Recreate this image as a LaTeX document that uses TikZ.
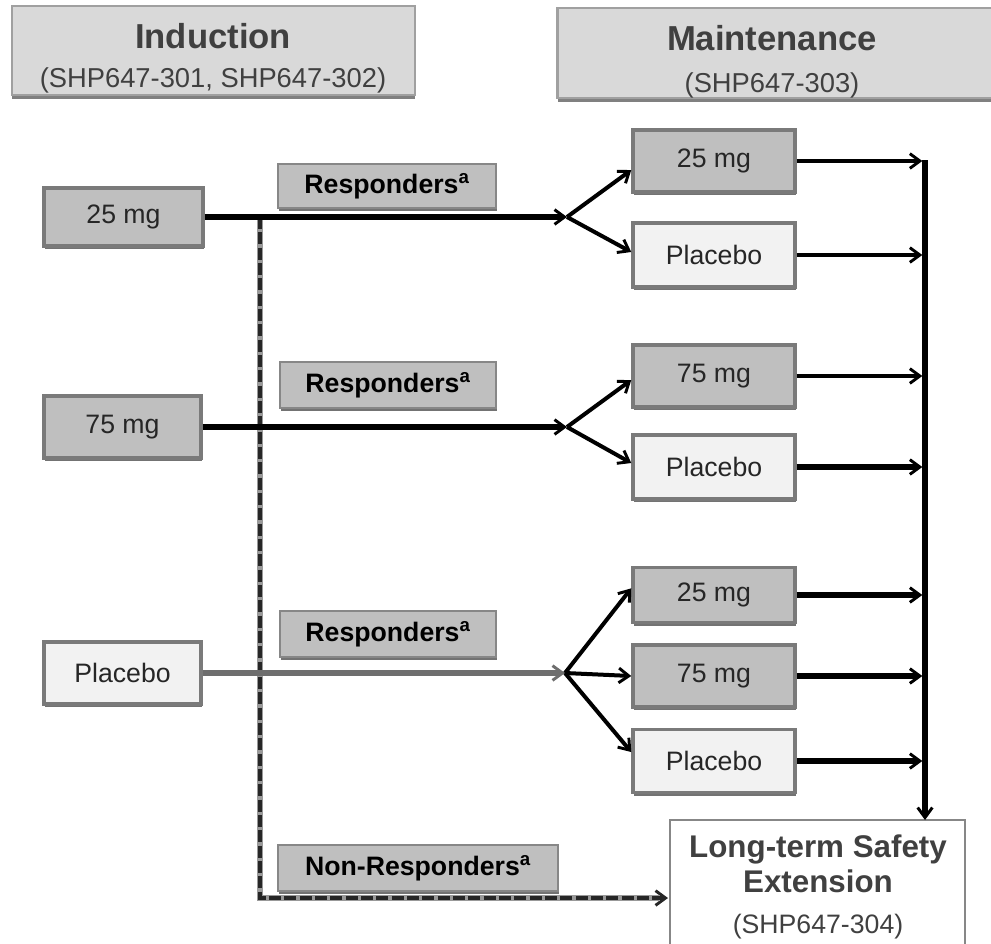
\documentclass[tikz,border=0pt]{standalone}
\usepackage{fontspec}
\setmainfont{Liberation Sans}
\usetikzlibrary{arrows.meta,shadows}
\definecolor{boxdark}{HTML}{BFBFBF}
\definecolor{boxlight}{HTML}{F2F2F2}
\definecolor{boxedge}{HTML}{7A7A7A}
\definecolor{headfill}{HTML}{D9D9D9}
\definecolor{headedge}{HTML}{A0A0A0}
\definecolor{headtext}{HTML}{404040}
\definecolor{bodytext}{HTML}{262626}
\definecolor{linegray}{HTML}{6E6E6E}
\begin{document}
\begin{tikzpicture}[x=0.75pt,y=-0.75pt,
  boxshadow/.style={drop shadow={shadow xshift=0.6pt,shadow yshift=-2.6pt,fill=black!55,opacity=1}},
  dosebox/.style={draw=boxedge,line width=2.6pt,boxshadow,text=bodytext,
    font=\fontsize{20}{24}\selectfont,inner sep=0pt},
  dark/.style={dosebox,fill=boxdark},
  light/.style={dosebox,fill=boxlight},
  tag/.style={draw=boxedge!90,line width=1.4pt,fill=boxdark,boxshadow,
    font=\bfseries\fontsize{20}{24}\selectfont,inner sep=0pt},
  header/.style={draw=headedge,line width=1.8pt,fill=headfill,
    drop shadow={shadow xshift=0pt,shadow yshift=-3pt,fill=black!50,opacity=1}},
  htitle/.style={anchor=base,text=headtext,font=\bfseries\fontsize{26}{30}\selectfont},
  hsub/.style={anchor=base,text=headtext,font=\fontsize{20.5}{24}\selectfont},
  tip/.style={-{Straight Barb[length=7.5pt,width=11pt,line width=2.2pt]}},
  mainline/.style={line width=4.4pt,tip},
  branch/.style={line width=3pt,tip},
  outthin/.style={line width=2.6pt,tip},
  outthick/.style={line width=4pt,tip},
]
\useasboundingbox (0,0) rectangle (991,943);

% phase headers
\node[header,minimum width=302.25pt,minimum height=66.75pt] (hind) at (213.5,50.5) {};
\node[htitle] (hindt) at (213,48) {Induction};
\node[hsub] (hinds) at (213,87) {(SHP647-301, SHP647-302)};
\node[header,minimum width=335pt,minimum height=67.5pt] (hmain) at (781,53) {};
\node[htitle] (hmaint) at (772,50) {Maintenance};
\node[hsub] (hmains) at (772,92) {(SHP647-303)};

% induction arms
\node[dark,minimum width=119.25pt,minimum height=43.5pt] (l1) at (123.5,217) {25 mg};
\node[dark,minimum width=117.75pt,minimum height=46.5pt] (l2) at (122.5,427) {75 mg};
\node[light,minimum width=117.75pt,minimum height=46.5pt] (l3) at (122.5,673) {Placebo};

% responder labels
\node[tag,minimum width=163.5pt,minimum height=33pt] (t1) at (387,186) {Responders\textsuperscript{a}};
\node[tag,minimum width=162pt,minimum height=34.5pt] (t2) at (388,385) {Responders\textsuperscript{a}};
\node[tag,minimum width=162pt,minimum height=34.5pt] (t3) at (388,634) {Responders\textsuperscript{a}};
\node[tag,minimum width=210pt,minimum height=34.5pt] (t4) at (418,868) {Non-Responders\textsuperscript{a}};

% maintenance arms
\node[dark,minimum width=121.5pt,minimum height=46.5pt] (r1) at (714,161) {25 mg};
\node[light,minimum width=121.5pt,minimum height=48pt] (r2) at (714,255) {Placebo};
\node[dark,minimum width=121.5pt,minimum height=46.5pt] (r3) at (714,376) {75 mg};
\node[light,minimum width=121.5pt,minimum height=48pt] (r4) at (714,467) {Placebo};
\node[dark,minimum width=121.5pt,minimum height=41.25pt] (r5) at (714,595) {25 mg};
\node[dark,minimum width=121.5pt,minimum height=46.5pt] (r6) at (714,676) {75 mg};
\node[light,minimum width=121.5pt,minimum height=47pt] (r7) at (714,761) {Placebo};

% long-term extension (box runs off the lower edge)
\coordinate (ltnw) at (670,820);
\coordinate (ltne) at (965,820);
\draw[draw=boxedge!90,line width=1.6pt] (670,960) -- (ltnw) -- (ltne) -- (965,960);
\node[anchor=base,text=headtext,font=\bfseries\fontsize{23.5}{27}\selectfont] (lt1) at (818,857) {Long-term Safety};
\node[anchor=base,text=headtext,font=\bfseries\fontsize{23.5}{27}\selectfont] (lt2) at (818,892) {Extension};
\node[anchor=base,text=headtext,font=\fontsize{20}{24}\selectfont] (lt3) at (818,933) {(SHP647-304)};

% junctions and guide points
\coordinate (j1) at (567,217);
\coordinate (j2) at (567,427);
\coordinate (j3) at (565,673);
\coordinate (vtop) at (925,160);
\coordinate (dtop) at (260,217);
\coordinate (dend) at (668,898);

% non-responder route (dashed)
\draw[black!40,line width=4pt] (dtop) |- ([xshift=-7pt]dend);
\draw[black!85,line width=3.4pt,dash pattern=on 9pt off 2.5pt,tip] (dtop) |- (dend);

% induction to randomisation
\draw[mainline] (l1.east) -- (j1);
\draw[mainline] (l2.east) -- (j2);
\draw[mainline,linegray] (l3.east) -- (j3);

% re-randomisation branches
\draw[branch] (j1) -- ([yshift=-6.75pt]r1.west);
\draw[branch] (j1) -- ([yshift=2.25pt]r2.west);
\draw[branch] (j2) -- ([yshift=-3pt]r3.west);
\draw[branch] (j2) -- ([yshift=3pt]r4.west);
\draw[branch] (j3) -- ([yshift=5pt]r5.west);
\draw[branch] (j3) -- (r6.west);
\draw[branch] (j3) -- ([yshift=6.75pt]r7.west);

% collector line into the extension study
\draw[line width=4.2pt,tip] (vtop) -- (vtop |- ltnw);
\draw[outthin] (r1.east) -- ([xshift=-2pt]r1.east -| vtop);
\draw[outthin] (r2.east) -- ([xshift=-2pt]r2.east -| vtop);
\draw[outthin] (r3.east) -- ([xshift=-2pt]r3.east -| vtop);
\draw[outthick] (r4.east) -- ([xshift=-2pt]r4.east -| vtop);
\draw[outthick] (r5.east) -- ([xshift=-2pt]r5.east -| vtop);
\draw[outthick] (r6.east) -- ([xshift=-2pt]r6.east -| vtop);
\draw[outthick] (r7.east) -- ([xshift=-2pt]r7.east -| vtop);
\end{tikzpicture}
\end{document}
